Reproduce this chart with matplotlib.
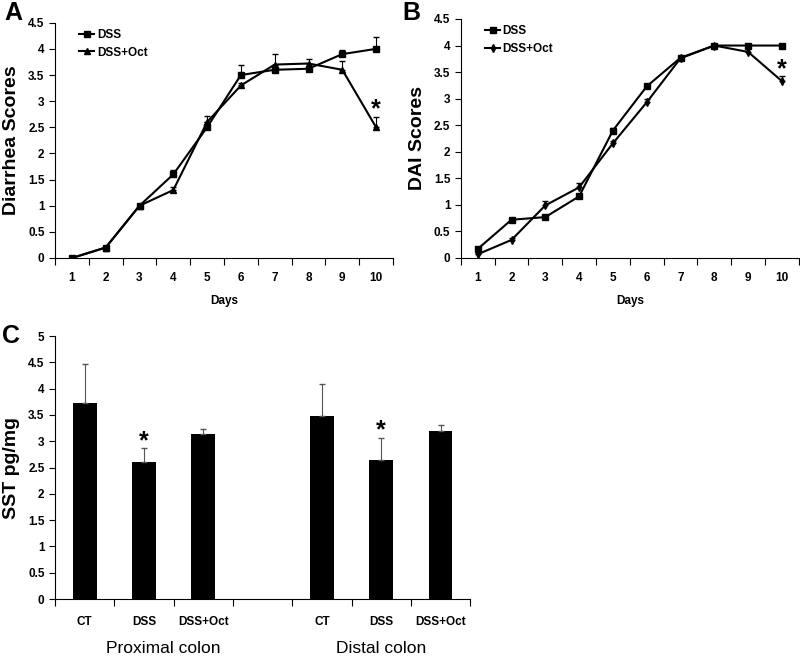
import matplotlib
matplotlib.use("Agg")
import matplotlib.pyplot as plt
from matplotlib.lines import Line2D
import numpy as np

plt.rcParams['font.family'] = ['Liberation Sans', 'DejaVu Sans']

days = [1, 2, 3, 4, 5, 6, 7, 8, 9, 10]
day_labels = ['1', '2', '3', '4', '5', '6', '7', '8', '9', '10']

# Panel A: Diarrhea scores
a_dss = [0.0, 0.2, 1.0, 1.6, 2.5, 3.5, 3.6, 3.62, 3.9, 4.0]
a_dss_err = [0.0, 0.0, 0.0, 0.08, 0.1, 0.2, 0.05, 0.1, 0.08, 0.22]
a_oct = [0.0, 0.2, 1.0, 1.3, 2.6, 3.3, 3.7, 3.72, 3.6, 2.5]
a_oct_err = [0.0, 0.0, 0.0, 0.06, 0.12, 0.05, 0.2, 0.08, 0.17, 0.2]

# Panel B: DAI scores
b_dss = [0.17, 0.72, 0.77, 1.16, 2.4, 3.23, 3.77, 4.0, 4.0, 4.0]
b_dss_err = [0.03, 0.03, 0.03, 0.04, 0.05, 0.04, 0.03, 0.02, 0.02, 0.02]
b_oct = [0.07, 0.34, 0.99, 1.33, 2.16, 2.93, 3.76, 4.0, 3.88, 3.33]
b_oct_err = [0.02, 0.03, 0.08, 0.09, 0.05, 0.06, 0.03, 0.02, 0.07, 0.09]

# Panel C: SST
c_labels = ['CT', 'DSS', 'DSS+Oct', 'CT', 'DSS', 'DSS+Oct']
c_pos = [0, 1, 2, 4, 5, 6]
c_vals = [3.72, 2.6, 3.13, 3.48, 2.64, 3.19]
c_err = [0.74, 0.28, 0.1, 0.61, 0.43, 0.11]
c_groups = ['Proximal colon', 'Distal colon']

fig = plt.figure(figsize=(8, 6.59), dpi=100)

tick_font = dict(fontsize=8.5, fontweight='bold')


def style_line_axes(ax, ylabel, yticks):
    for s in ['top', 'right']:
        ax.spines[s].set_visible(False)
    ax.set_xlim(0.5, 10.5)
    ax.set_ylim(0, 4.5)
    ax.set_xticks(np.arange(0.5, 11, 1))
    ax.set_xticklabels([])
    ax.set_xticks(days, minor=True)
    ax.set_xticklabels(day_labels, minor=True, **tick_font)
    ax.tick_params(axis='x', which='minor', length=0, pad=10)
    ax.tick_params(axis='x', which='major', length=5, direction='out')
    ax.set_yticks(yticks)
    ax.set_yticklabels([('%g' % t) for t in yticks], **tick_font)
    ax.tick_params(axis='y', length=4, direction='out')
    ax.set_xlabel('Days', fontsize=8.5, fontweight='bold', labelpad=8)
    ax.set_ylabel(ylabel, fontsize=14, fontweight='bold', labelpad=6)


def add_legend(ax, m2, ms2):
    handles = [Line2D([], [], color='black', lw=1.5, marker='s', ms=5),
               Line2D([], [], color='black', lw=1.5, marker=m2, ms=ms2)]
    ax.legend(handles, ['DSS', 'DSS+Oct'], loc='upper left',
              bbox_to_anchor=(0.04, 1.02), frameon=False,
              prop=dict(size=8.5, weight='bold'), handlelength=1.3,
              handletextpad=0.2, labelspacing=0.5)


yt = [0, 0.5, 1, 1.5, 2, 2.5, 3, 3.5, 4, 4.5]

# Panel A
axA = fig.add_axes([0.06875, 0.6085, 0.4225, 0.357])
axA.errorbar(days, a_dss, yerr=[np.zeros(10), a_dss_err], color='black', lw=1.5,
             marker='s', ms=5, capsize=2, elinewidth=0.8)
axA.errorbar(days, a_oct, yerr=[np.zeros(10), a_oct_err], color='black', lw=1.5,
             marker='^', ms=5, capsize=2, elinewidth=0.8)
style_line_axes(axA, 'Diarrhea Scores', yt)
axA.text(10, 2.85, '*', fontsize=18, fontweight='bold', ha='center', va='center')
add_legend(axA, '^', 5)

# Panel B
axB = fig.add_axes([0.576, 0.6085, 0.4225, 0.3627])
axB.errorbar(days, b_dss, yerr=[np.zeros(10), b_dss_err], color='black', lw=1.5,
             marker='s', ms=5, capsize=2, elinewidth=0.8)
axB.errorbar(days, b_oct, yerr=[np.zeros(10), b_oct_err], color='black', lw=1.5,
             marker='d', ms=4, capsize=2, elinewidth=0.8)
style_line_axes(axB, 'DAI Scores', yt)
axB.text(10, 3.55, '*', fontsize=18, fontweight='bold', ha='center', va='center')
add_legend(axB, 'd', 4)

# Panel C
axC = fig.add_axes([0.06875, 0.091, 0.519, 0.399])
axC.bar(c_pos, c_vals, width=0.4, color='black', zorder=2)
axC.errorbar(c_pos, c_vals, yerr=[np.zeros(6), c_err], fmt='none', ecolor='#555555',
             elinewidth=0.8, capsize=2, zorder=3)
for s in ['top', 'right']:
    axC.spines[s].set_visible(False)
axC.set_xlim(-0.5, 6.5)
axC.set_ylim(0, 5)
axC.set_xticks(np.arange(-0.5, 7, 1))
axC.set_xticklabels([])
axC.set_xticks(c_pos, minor=True)
axC.set_xticklabels(c_labels, minor=True, **tick_font)
axC.tick_params(axis='x', which='minor', length=0, pad=12)
axC.tick_params(axis='x', which='major', length=5, direction='out')
yc = [0, 0.5, 1, 1.5, 2, 2.5, 3, 3.5, 4, 4.5, 5]
axC.set_yticks(yc)
axC.set_yticklabels([('%g' % t) for t in yc], **tick_font)
axC.tick_params(axis='y', length=4, direction='out')
axC.set_ylabel('SST pg/mg', fontsize=14, fontweight='bold', labelpad=6)
axC.text(1, 3.0, '*', fontsize=18, fontweight='bold', ha='center', va='center')
axC.text(5, 3.2, '*', fontsize=18, fontweight='bold', ha='center', va='center')
axC.text(1.33, -0.19, c_groups[0], transform=axC.get_xaxis_transform(), fontsize=12.5,
         ha='center', va='center')
axC.text(5, -0.19, c_groups[1], transform=axC.get_xaxis_transform(), fontsize=12.5,
         ha='center', va='center')

# Panel letters
fig.text(0.005, 0.998, 'A', fontsize=18, fontweight='bold', va='top')
fig.text(0.503, 0.998, 'B', fontsize=18, fontweight='bold', va='top')
fig.text(0.003, 0.508, 'C', fontsize=18, fontweight='bold', va='top')

fig.savefig('out.png', dpi=100)
